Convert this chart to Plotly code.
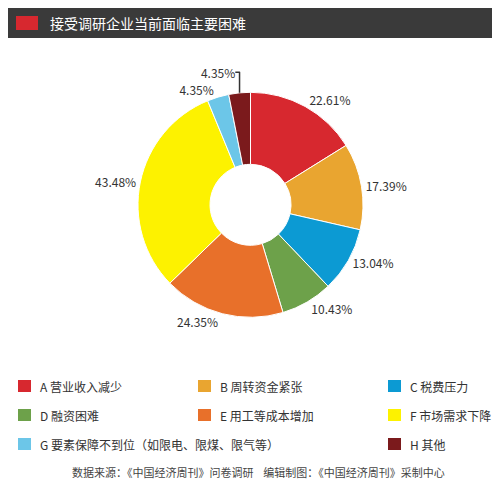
import plotly.graph_objects as go

labels = ["A 营业收入减少", "B 周转资金紧张", "C 税费压力", "D 融资困难", "E 用工等成本增加",
          "F 市场需求下降", "G 要素保障不到位（如限电、限煤、限气等）", "H 其他"]
values = [22.61, 17.39, 13.04, 10.43, 24.35, 43.48, 4.35, 4.35]
colors = ["#d7282f", "#e9a530", "#0c9ad3", "#6da14a", "#e8702a", "#fdf200", "#6cc6e8", "#7b1a1c"]
title = "接受调研企业当前面临主要困难"
source = "数据来源：《中国经济周刊》问卷调研    编辑制图：《中国经济周刊》采制中心"

fig = go.Figure(go.Pie(
    labels=labels, values=values, sort=False, direction="clockwise", hole=0.36,
    marker=dict(colors=colors, line=dict(color="white", width=1)),
    text=[f"{v:.2f}%" for v in values], textinfo="text", textposition="outside",
    textfont=dict(size=12, color="#333", family="Noto Sans CJK SC"),
    domain=dict(x=[0.26, 0.71], y=[0.35, 0.83]), showlegend=False,
))
shapes = [dict(type="rect", xref="paper", yref="paper", x0=0, x1=1, y0=1 - 30/480, y1=1,
               fillcolor="#3a3a3a", line_width=0),
          dict(type="rect", xref="paper", yref="paper", x0=8/500, x1=30/500, y0=1 - 22/480, y1=1 - 8/480,
               fillcolor="#d7282f", line_width=0)]
ann = [dict(text=title, x=40/500, y=1 - 15/480, xref="paper", yref="paper", xanchor="left", yanchor="middle",
            showarrow=False, font=dict(size=14, color="white", family="Noto Sans CJK SC"))]
pos = [(10, 378), (190, 378), (380, 378), (10, 407), (190, 407), (380, 407), (10, 436), (380, 436)]
for (px, py), lab, c in zip(pos, labels, colors):
    shapes.append(dict(type="rect", xref="paper", yref="paper", x0=px/500, x1=(px+13)/500,
                       y0=1 - (py+6)/480, y1=1 - (py-6)/480, fillcolor=c, line_width=0))
    ann.append(dict(text=lab, x=(px+20)/500, y=1 - py/480, xref="paper", yref="paper", xanchor="left",
                    yanchor="middle", showarrow=False, font=dict(size=12, color="#333", family="Noto Sans CJK SC")))
ann.append(dict(text=source, x=0.5, y=1 - 464/480, xref="paper", yref="paper", xanchor="center", yanchor="middle",
                showarrow=False, font=dict(size=11, color="#444", family="Noto Sans CJK SC")))
fig.update_layout(width=500, height=480, margin=dict(l=0, r=0, t=0, b=0), paper_bgcolor="white",
                  shapes=shapes, annotations=ann)
fig.write_html("out.html")
